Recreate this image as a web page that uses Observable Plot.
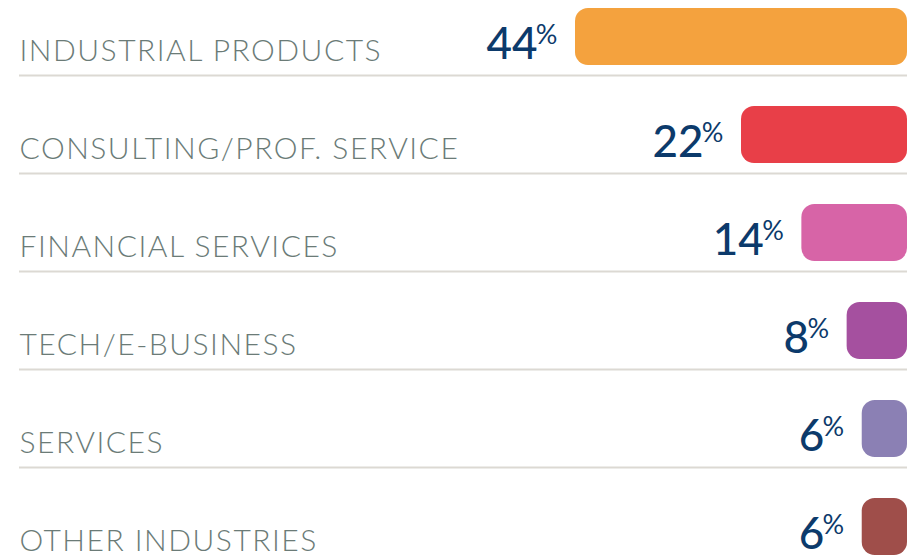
<!DOCTYPE html>
<html>
<head>
<meta charset="utf-8">
<script src="https://cdn.jsdelivr.net/npm/d3@7"></script>
<script src="https://cdn.jsdelivr.net/npm/@observablehq/plot@0.6"></script>
<style>
  html, body { margin: 0; padding: 0; background: #ffffff; }
  #chart svg { display: block; }
  #chart svg g[font-size="30"] { letter-spacing: 1.5px; }
</style>
</head>
<body>
<div id="chart"></div>
<script>
const categories = ["INDUSTRIAL PRODUCTS", "CONSULTING/PROF. SERVICE", "FINANCIAL SERVICES", "TECH/E-BUSINESS", "SERVICES", "OTHER INDUSTRIES"];
const values = [44, 22, 14, 8, 6, 6];
const colors = ["#f4a23e", "#e83f48", "#d764a7", "#a5509f", "#8b80b4", "#9f4e4a"];
const ruleRows = categories.slice(0, 5);

const data = categories.map((c, i) => ({category: c, value: values[i], color: colors[i]}));

const plot = Plot.plot({
  width: 913,
  height: 557,
  marginLeft: 19,
  marginRight: 6,
  marginTop: 0,
  marginBottom: 0,
  x: {domain: [0, 44], range: [907, 575], axis: null},
  y: {domain: categories, range: [-12.55, 575.5], paddingInner: 0.42, paddingOuter: 0.21, axis: null},
  marks: [
    Plot.ruleY(ruleRows, {y: d => d, dy: 38.5, stroke: "#dcd9d3", strokeWidth: 2}),
    Plot.barX(data, {y: "category", x1: 0, x2: "value", fill: "color", rx: 13, ry: 13}),
    Plot.text(data, {y: "category", text: "category", frameAnchor: "left", textAnchor: "start", dy: 14,
      fill: "#6b7b77", fontSize: 30, fontWeight: 300, fontFamily: "Lato"}),
    Plot.text(data, {y: "category", x: "value", text: d => String(d.value), textAnchor: "end", dx: -38, dy: 7.5,
      fill: "#0c3a6b", fontSize: 44, fontWeight: 500, fontFamily: "Lato"}),
    Plot.text(data, {y: "category", x: "value", text: d => "%", textAnchor: "end", dx: -18, dy: -1.5,
      fill: "#0c3a6b", fontSize: 27, fontWeight: 400, fontFamily: "Lato"})
  ]
});
document.getElementById("chart").appendChild(plot);
</script>
</body>
</html>
